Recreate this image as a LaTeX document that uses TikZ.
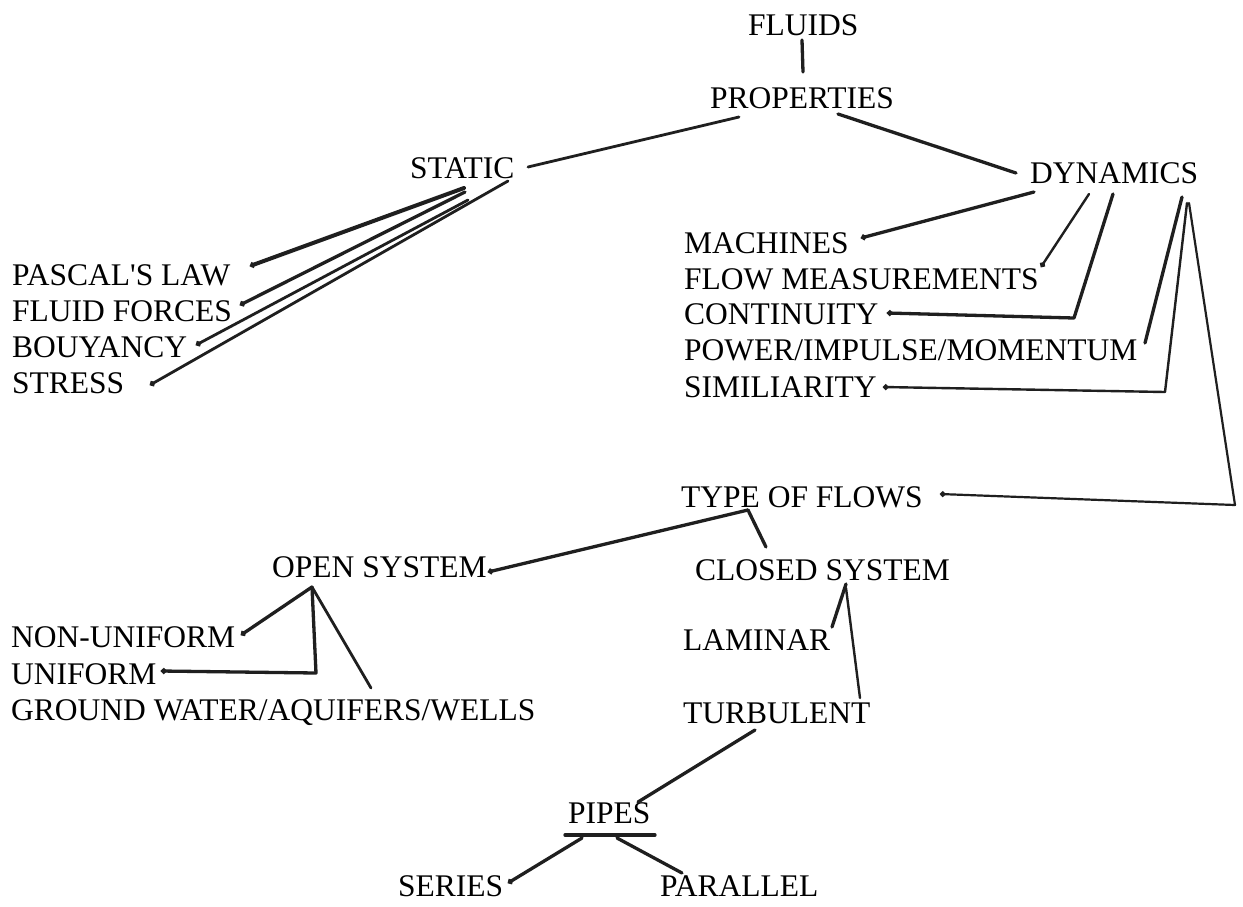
\documentclass[tikz,border=0pt]{standalone}
\usepackage{fontspec}
\setmainfont{Liberation Serif}[Ligatures=TeXOff]
\usetikzlibrary{calc,arrows.meta}
\begin{document}
\begin{tikzpicture}[x=1pt,y=-1pt,
  lbl/.style={anchor=base west,inner sep=0pt,font=\fontsize{31.5}{36}\selectfont},
  link/.style={draw=black!88,line width=3.3pt,line cap=round,line join=round},
  thinlink/.style={link,line width=2.4pt},
  dotend/.style={-{Circle[length=5.5pt]}}]
\useasboundingbox[fill=white] (0,0) rectangle (1243,906);
% nodes
\node[lbl] (fluids) at (748,35) {FLUIDS};
\node[lbl] (properties) at (710,108) {PROPERTIES};
\node[lbl] (static) at (410,178) {STATIC};
\node[lbl] (dynamics) at (1030,183) {DYNAMICS};
\node[lbl] (pascal) at (12,285) {PASCAL'S LAW};
\node[lbl] (forces) at (12,321) {FLUID FORCES};
\node[lbl] (bouyancy) at (12,357) {BOUYANCY};
\node[lbl] (stress) at (12,393) {STRESS};
\node[lbl] (machines) at (684,253) {MACHINES};
\node[lbl] (flowmeas) at (684,289) {FLOW MEASUREMENTS};
\node[lbl] (continuity) at (684,324) {CONTINUITY};
\node[lbl] (power) at (684,360) {POWER/IMPULSE/MOMENTUM};
\node[lbl] (simil) at (684,397) {SIMILIARITY};
\node[lbl] (types) at (681,507) {TYPE OF FLOWS};
\node[lbl] (open) at (272,577) {OPEN SYSTEM};
\node[lbl] (closed) at (695,580) {CLOSED SYSTEM};
\node[lbl] (nonuni) at (11,647) {NON-UNIFORM};
\node[lbl] (uniform) at (11,684) {UNIFORM};
\node[lbl] (ground) at (11,720) {GROUND WATER/AQUIFERS/WELLS};
\node[lbl] (laminar) at (683,650) {LAMINAR};
\node[lbl] (turb) at (683,723) {TURBULENT};
\node[lbl] (pipes) at (568,823) {PIPES};
\node[lbl] (series) at (398,896) {SERIES};
\node[lbl] (parallel) at (660,896) {PARALLEL};
% connectors
\draw[link] ($(fluids.base west)+(54,5)$) -- ($(properties.base west)+(93,-36)$);
\draw[thinlink,line width=2.8pt] ($(properties.base west)+(29,9)$) -- ($(static.base west)+(118,-11)$);
\draw[link] ($(properties.base west)+(128,6)$) -- ($(dynamics.base west)+(-14,-10)$);
% static children
\draw[link,line width=4pt,dotend] ($(static.base west)+(54,10)$) -- ($(pascal.base west)+(238,-19)$);
\draw[link,dotend] ($(static.base west)+(55,14)$) -- ($(forces.base west)+(228,-16)$);
\draw[thinlink,line width=2.8pt,dotend] ($(static.base west)+(58,22)$) -- ($(bouyancy.base west)+(184,-12)$);
\draw[thinlink,line width=2.8pt,dotend] ($(static.base west)+(98,3)$) -- ($(stress.base west)+(138,-8)$);
% dynamics children
\draw[link,dotend] ($(dynamics.base west)+(4,9)$) -- ($(machines.base west)+(177,-15)$);
\draw[thinlink,dotend] ($(dynamics.base west)+(59,11)$) -- ($(flowmeas.base west)+(357,-22)$);
\draw[link,dotend] ($(dynamics.base west)+(83,11)$) -- ($(continuity.base west)+(390,-6)$) -- ($(continuity.base west)+(203,-11)$);
\draw[link] ($(dynamics.base west)+(152,14)$) -- ($(power.base west)+(461,-17)$);
\draw[thinlink,dotend] ($(dynamics.base west)+(157,20)$) -- ($(simil.base west)+(481,-5)$) -- ($(simil.base west)+(199,-10)$);
\draw[thinlink,line width=2.2pt,dotend] ($(dynamics.base west)+(159,20)$) -- ($(types.base west)+(554,-2)$) -- ($(types.base west)+(259,-13)$);
% type of flows children
\draw[link,dotend] ($(types.base west)+(67,3)$) -- ($(open.base west)+(216,-5)$);
\draw[link] ($(types.base west)+(67,3)$) -- ($(closed.base west)+(71,-33)$);
% open system children
\draw[link,dotend] ($(open.base west)+(40,10)$) -- ($(nonuni.base west)+(230,-12)$);
\draw[link,dotend] ($(open.base west)+(40,10)$) -- ($(uniform.base west)+(305,-11)$) -- ($(uniform.base west)+(150,-13)$);
\draw[thinlink,line width=2.8pt] ($(open.base west)+(40,10)$) -- ($(ground.base west)+(360,-32)$);
% closed system children
\draw[link] ($(closed.base west)+(151,4)$) -- ($(laminar.base west)+(149,-23)$);
\draw[thinlink] ($(closed.base west)+(151,8)$) -- ($(turb.base west)+(177,-25)$);
% pipes
\draw[link] ($(turb.base west)+(72,7)$) -- ($(pipes.base west)+(70,-21)$);
\draw[link] ($(pipes.base west)+(-3,12)$) -- ($(pipes.base west)+(87,12)$);
\draw[link,dotend] ($(pipes.base west)+(14,15)$) -- ($(series.base west)+(110,-13)$);
\draw[link] ($(pipes.base west)+(49,15)$) -- ($(parallel.base west)+(22,-23)$);
\end{tikzpicture}
\end{document}
